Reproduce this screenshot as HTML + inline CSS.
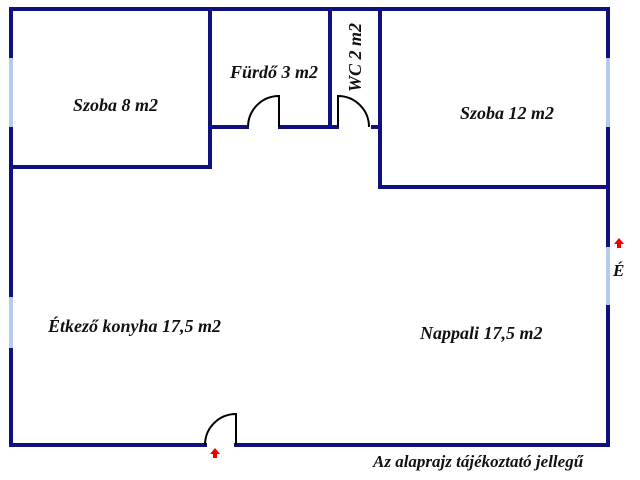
<!DOCTYPE html>
<html><head><meta charset="utf-8"><style>html,body{margin:0;padding:0;background:#fff}svg{display:block}</style></head>
<body>
<svg width="640" height="480" xmlns="http://www.w3.org/2000/svg">
<g stroke="#10107e" stroke-width="4" fill="none" stroke-linecap="square">
<path d="M11 9 H608 V445 H236"/>
<path d="M205 445 H11 V9"/>
<path d="M11 167 H210 V9"/>
<path d="M210 127 H247 M280 127 H330 V9 M330 127 H337 M373 127 H380 V9"/>
<path d="M380 127 V187 H608"/>
</g>
<g stroke="#b4cce8" stroke-width="4">
<line x1="11" y1="58" x2="11" y2="127"/>
<line x1="11" y1="297" x2="11" y2="348"/>
<line x1="608" y1="58" x2="608" y2="127"/>
<line x1="608" y1="247" x2="608" y2="305"/>
</g>
<g stroke="#000" stroke-width="2" fill="none">
<path d="M279 127 V96 A31 31 0 0 0 248 127"/>
<path d="M338 127 V96 A31 31 0 0 1 369 127"/>
<path d="M236 445 V414 A31 31 0 0 0 205 445"/>
</g>
<g fill="#e00">
<polygon points="215,448 220,454 217,454 217,458 213,458 213,454 210,454"/>
<polygon points="619,238 624,244 621,244 621,248 617,248 617,244 614,244"/>
</g>
<g font-family="Liberation Serif, serif" font-style="italic" font-weight="bold" font-size="18" fill="#111">
<text x="73" y="111">Szoba 8 m2</text>
<text x="230" y="78">Fürdő 3 m2</text>
<text x="460" y="119">Szoba 12 m2</text>
<text x="48" y="332">Étkező konyha 17,5 m2</text>
<text x="420" y="339">Nappali 17,5 m2</text>
<text x="373" y="467" font-size="17">Az alaprajz tájékoztató jellegű</text>
<text x="613" y="276" font-size="17">É</text>
<text transform="translate(361,92) rotate(-90)">WC 2 m2</text>
</g>
</svg>
</body></html>
